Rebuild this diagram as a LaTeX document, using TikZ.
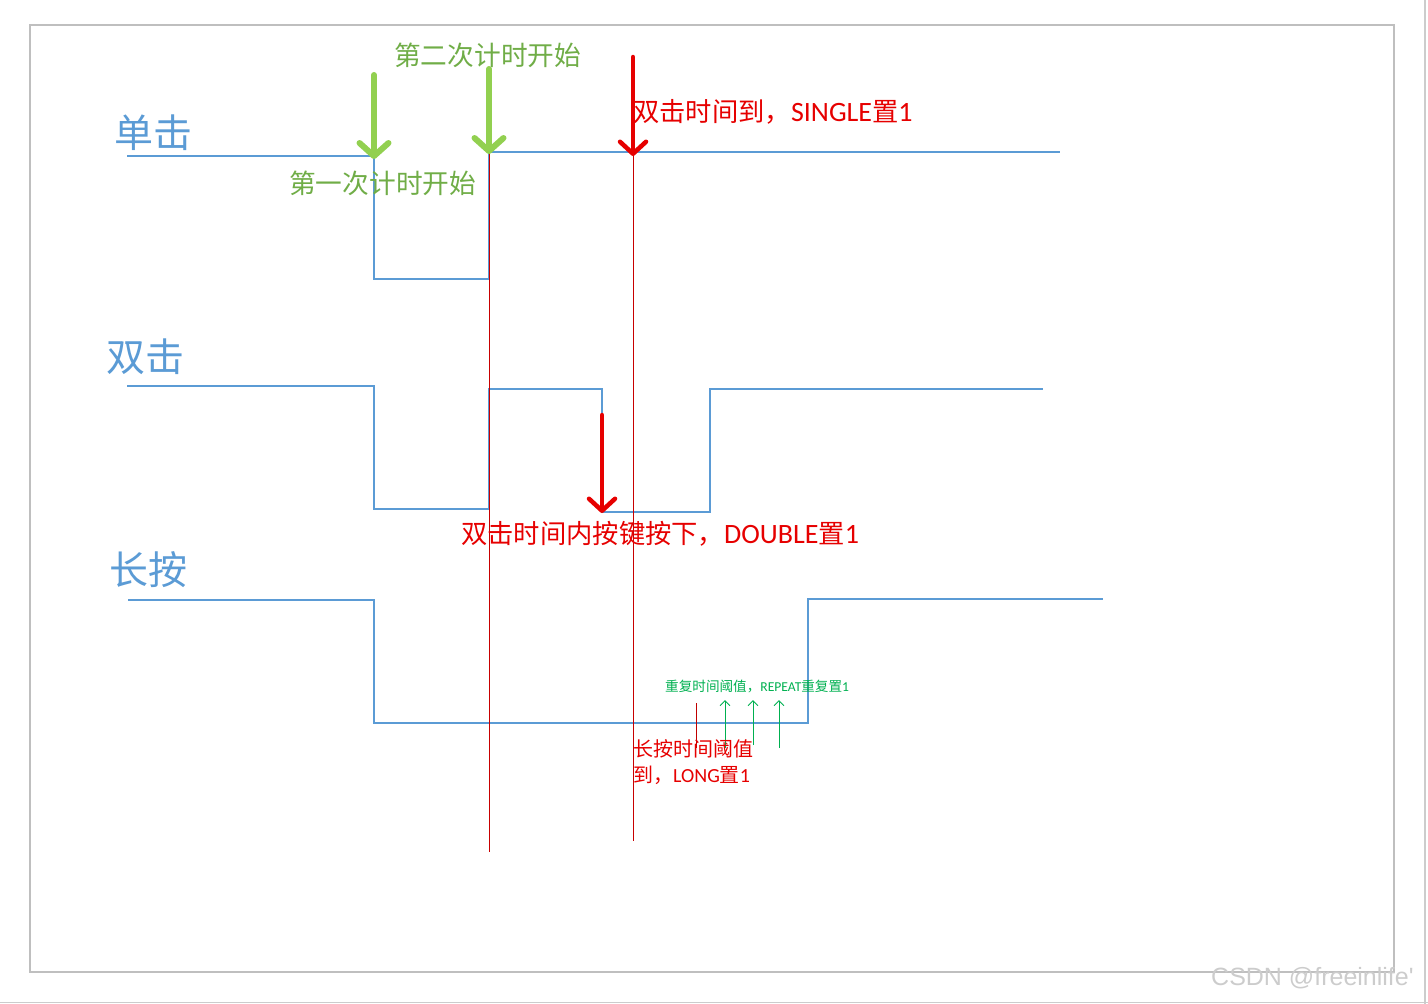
\documentclass[tikz,border=0pt]{standalone}
\usepackage{fontspec}
\setmainfont{Carlito}
\newfontfamily\cjk{Noto Sans CJK SC}
\newfontfamily\wmfont{Liberation Sans}
\usetikzlibrary{arrows.meta}
\definecolor{sigblue}{HTML}{5B9BD5}
\definecolor{lightgreen}{HTML}{92D050}
\definecolor{txtgreen}{HTML}{70AD47}
\definecolor{repgreen}{HTML}{00B050}
\definecolor{myred}{HTML}{E60000}
\definecolor{linered}{HTML}{C80000}
\definecolor{darkred}{HTML}{C00000}
\definecolor{framegray}{HTML}{BFBFBF}
\newcommand{\latbig}[1]{{\fontsize{28}{30}\selectfont #1}}
\tikzset{
  lbl/.style={anchor=west, inner sep=0pt},
  siglabel/.style={lbl, text=sigblue, font=\cjk\fontsize{39}{42}\selectfont},
  greentxt/.style={lbl, text=txtgreen, font=\cjk\fontsize{26.7}{30}\selectfont},
  redtxt/.style={lbl, text=myred, font=\fontsize{26.3}{30}\selectfont},
  wave/.style={draw=sigblue, line width=1.3pt},
  marker/.style={draw=linered, line width=0.8pt},
  greenarrow/.style={draw=lightgreen, line width=6pt, line cap=round,
     -{Straight Barb[length=13pt, width=29pt, line cap=round, round]}},
  redarrow/.style={draw=myred, line width=4.5pt, line cap=round,
     -{Straight Barb[length=12pt, width=26pt, line cap=round, round]}},
  reparrow/.style={draw=repgreen, line width=1pt, -{Straight Barb[length=5pt, width=10pt]}},
}
\begin{document}
\begin{tikzpicture}[x=1pt, y=-1pt]
\useasboundingbox (0,0) rectangle (1428,1004);
% page frame
\draw[framegray, line width=1.5pt] (30,25) rectangle (1394,972);
\draw[framegray!80, line width=1.5pt] (1425,0) -- (1425,1004);
\draw[framegray!80, line width=1.5pt] (0,1002.5) -- (1428,1002.5);

% signal labels
\node[siglabel] (l1) at (114,133) {单击};
\node[siglabel] (l2) at (106,357) {双击};
\node[siglabel] (l3) at (109,570) {长按};

% waveforms
\draw[wave] (127,156) -- (374,156) -- (374,279) -- (489,279) -- (489,152) -- (1060,152);
\draw[wave] (127,386) -- (374,386) -- (374,509) -- (489,509) -- (489,389) -- (602,389)
  -- (602,512) -- (710,512) -- (710,389) -- (1043,389);
\draw[wave] (128,600) -- (374,600) -- (374,723) -- (808,723) -- (808,599) -- (1103,599);

% red marker lines
\coordinate (m1top) at (489,152);
\coordinate (m1bot) at (489,852);
\coordinate (m2top) at (633,155);
\coordinate (m2bot) at (633,841);
\draw[marker] (m1top) -- (m1bot);
\draw[marker] (m2top) -- (m2bot);

% green arrows
\coordinate (g1s) at (374,75);
\coordinate (g1e) at (374,159);
\coordinate (g2s) at (489,69);
\coordinate (g2e) at (489,154);
\draw[greenarrow] (g1s) -- (g1e);
\draw[greenarrow] (g2s) -- (g2e);
\node[greentxt] (t2) at (394,55) {第二次计时开始};
\node[greentxt] (t1) at (289,183) {第一次计时开始};

% red arrows
\coordinate (r1s) at (633,57);
\coordinate (r1e) at (633,156);
\coordinate (r2s) at (602,415);
\coordinate (r2e) at (602,513);
\draw[redarrow] (r1s) -- (r1e);
\draw[redarrow] (r2s) -- (r2e);
\node[redtxt] (ts) at (633,112) {{\cjk 双击时间到，}\latbig{SINGLE}{\cjk 置}\latbig{1}};
\node[redtxt] (td) at (461,534) {{\cjk 双击时间内按键按下，}\latbig{DOUBLE}{\cjk 置}\latbig{1}};

% long press details
\coordinate (lp1) at (696,703);
\coordinate (lp2) at (696,748);
\draw[darkred, line width=1pt] (lp1) -- (lp2);
\coordinate (a1s) at (725,748);
\coordinate (a1e) at (725,700);
\coordinate (a2s) at (753,745);
\coordinate (a2e) at (753,700);
\coordinate (a3s) at (779,748);
\coordinate (a3e) at (779,700);
\draw[reparrow] (a1s) -- (a1e);
\draw[reparrow] (a2s) -- (a2e);
\draw[reparrow] (a3s) -- (a3e);
\node[lbl, text=repgreen, font=\fontsize{13.6}{15}\selectfont] (tr) at (665,687)
  {{\cjk 重复时间阈值，}REPEAT{\cjk 重复置}1};
\node[lbl, text=myred, font=\fontsize{20}{22}\selectfont] (tl1) at (633,749) {\cjk 长按时间阈值};
\node[lbl, text=myred, font=\fontsize{20}{22}\selectfont] (tl2) at (633,775) {{\cjk 到，}LONG{\cjk 置}1};

% watermark
\node[lbl, text=gray!40, font=\wmfont\fontsize{25}{28}\selectfont] (wm) at (1211,978) {CSDN @freeinlife'};
\end{tikzpicture}
\end{document}
